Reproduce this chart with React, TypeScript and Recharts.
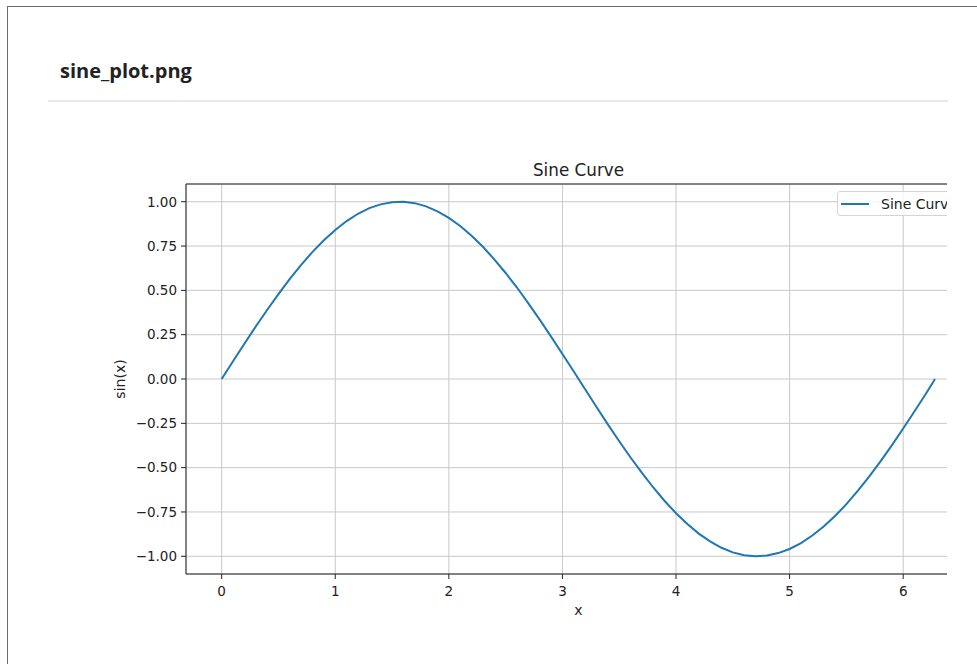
import React from "react";
import {
  LineChart,
  Line,
  XAxis,
  YAxis,
  CartesianGrid,
  Legend,
  ReferenceLine,
} from "recharts";

// values
const xValues = [
  0, 0.1, 0.2, 0.3, 0.4, 0.5, 0.6, 0.7, 0.8, 0.9, 1.0, 1.1, 1.2, 1.3, 1.4, 1.5,
  1.6, 1.7, 1.8, 1.9, 2.0, 2.1, 2.2, 2.3, 2.4, 2.5, 2.6, 2.7, 2.8, 2.9, 3.0,
  3.1, 3.2, 3.3, 3.4, 3.5, 3.6, 3.7, 3.8, 3.9, 4.0, 4.1, 4.2, 4.3, 4.4, 4.5,
  4.6, 4.7, 4.8, 4.9, 5.0, 5.1, 5.2, 5.3, 5.4, 5.5, 5.6, 5.7, 5.8, 5.9, 6.0,
  6.1, 6.2, 6.28,
];
const sineValues = [
  0, 0.1, 0.199, 0.296, 0.389, 0.479, 0.565, 0.644, 0.717, 0.783, 0.841,
  0.891, 0.932, 0.964, 0.985, 0.997, 1.0, 0.992, 0.974, 0.946, 0.909, 0.863,
  0.808, 0.746, 0.675, 0.598, 0.516, 0.427, 0.335, 0.239, 0.141, 0.042,
  -0.058, -0.158, -0.256, -0.351, -0.443, -0.53, -0.612, -0.688, -0.757,
  -0.818, -0.872, -0.916, -0.952, -0.978, -0.994, -1.0, -0.996, -0.982,
  -0.959, -0.926, -0.883, -0.832, -0.773, -0.706, -0.631, -0.551, -0.465,
  -0.374, -0.279, -0.182, -0.083, 0,
];
const xTicks = [0, 1, 2, 3, 4, 5, 6];
const yTicks = [-1, -0.75, -0.5, -0.25, 0, 0.25, 0.5, 0.75, 1];

const data = xValues.map((x, i) => ({ x, y: sineValues[i] }));

const MPL_FONT = "'DejaVu Sans', sans-serif";
const INK = "#222";

const fmtY = (v: number) => {
  const s = Math.abs(v).toFixed(2);
  return v < 0 ? "\u2212" + s : s;
};

function LegendBox({ payload }: any) {
  return (
    <div
      style={{
        boxSizing: "border-box",
        width: 127,
        height: 25,
        border: "1px solid #d4d4d4",
        borderRadius: 3,
        background: "rgba(255,255,255,0.8)",
        display: "flex",
        alignItems: "center",
        fontFamily: MPL_FONT,
        fontSize: 14,
        color: INK,
        whiteSpace: "nowrap",
      }}
    >
      {(payload || []).map((p: any) => (
        <React.Fragment key={p.value}>
          <span
            style={{
              display: "inline-block",
              width: 28,
              height: 2,
              marginLeft: 3,
              background: p.color,
            }}
          />
          <span style={{ marginLeft: 12 }}>{p.value}</span>
        </React.Fragment>
      ))}
    </div>
  );
}

export default function App() {
  return (
    <div
      style={{
        position: "absolute",
        left: 0,
        top: 0,
        width: 977,
        height: 664,
        overflow: "hidden",
        background: "#fff",
      }}
    >
      {/* card frame */}
      <div
        style={{
          position: "absolute",
          left: 7,
          top: 6,
          width: 1000,
          height: 700,
          borderLeft: "1px solid #6b6b6b",
          borderTop: "1px solid #6b6b6b",
        }}
      />
      <div
        style={{
          position: "absolute",
          left: 60,
          top: 57,
          fontFamily: "'Open Sans', sans-serif",
          fontWeight: 700,
          fontSize: 20,
          color: "#222",
          whiteSpace: "nowrap",
        }}
      >
        sine_plot.png
      </div>
      <div
        style={{
          position: "absolute",
          left: 48,
          top: 100,
          width: 900,
          height: 2,
          background: "#e8e8e8",
        }}
      />

      {/* image area, cropped on the right */}
      <div
        style={{
          position: "absolute",
          left: 48,
          top: 110,
          width: 899,
          height: 554,
          overflow: "hidden",
        }}
      >
        <LineChart
          width={1000}
          height={540}
          data={data}
          margin={{ top: 74, right: 77, bottom: 36, left: 0 }}
        >
          <CartesianGrid stroke="#c8c8c8" strokeWidth={1} />
          <XAxis
            dataKey="x"
            type="number"
            domain={[-0.314, 6.597]}
            ticks={xTicks}
            interval={0}
            allowDataOverflow
            height={40}
            tickSize={5}
            tickMargin={7}
            stroke={INK}
            tick={{ fontSize: 13.5, fill: INK, fontFamily: MPL_FONT }}
            label={{
              content: ({ viewBox }: any) => (
                <text
                  x={viewBox.x + viewBox.width / 2}
                  y={viewBox.y + 41}
                  textAnchor="middle"
                  fontSize={14}
                  fontFamily={MPL_FONT}
                  fill={INK}
                >
                  x
                </text>
              ),
            }}
          />
          <YAxis
            type="number"
            domain={[-1.1, 1.1]}
            ticks={yTicks}
            interval={0}
            allowDataOverflow
            width={138}
            tickSize={5}
            tickMargin={4}
            tickFormatter={fmtY}
            stroke={INK}
            tick={{ fontSize: 13.5, fill: INK, fontFamily: MPL_FONT }}
            label={{
              content: ({ viewBox }: any) => {
                const cx = viewBox.x + 72;
                const cy = viewBox.y + viewBox.height / 2;
                return (
                  <text
                    x={cx}
                    y={cy}
                    transform={`rotate(-90, ${cx}, ${cy})`}
                    textAnchor="middle"
                    dominantBaseline="central"
                    fontSize={14}
                    fontFamily={MPL_FONT}
                    fill={INK}
                  >
                    sin(x)
                  </text>
                );
              },
            }}
          />
          {/* top spine, carries the axes title */}
          <ReferenceLine
            y={1.1}
            stroke={INK}
            strokeWidth={1}
            label={{
              content: ({ viewBox }: any) => (
                <text
                  x={viewBox.x + viewBox.width / 2}
                  y={viewBox.y - 8}
                  textAnchor="middle"
                  fontSize={16.8}
                  fontFamily={MPL_FONT}
                  fill={INK}
                >
                  Sine Curve
                </text>
              ),
            }}
          />
          <Legend
            layout="vertical"
            align="center"
            verticalAlign="middle"
            content={<LegendBox />}
            wrapperStyle={{ left: 789, top: 81, width: 127 }}
          />
          <Line
            type="linear"
            dataKey="y"
            name="Sine Curve"
            stroke="#1f77b4"
            strokeWidth={2}
            dot={false}
            isAnimationActive={false}
          />
        </LineChart>
      </div>
    </div>
  );
}
